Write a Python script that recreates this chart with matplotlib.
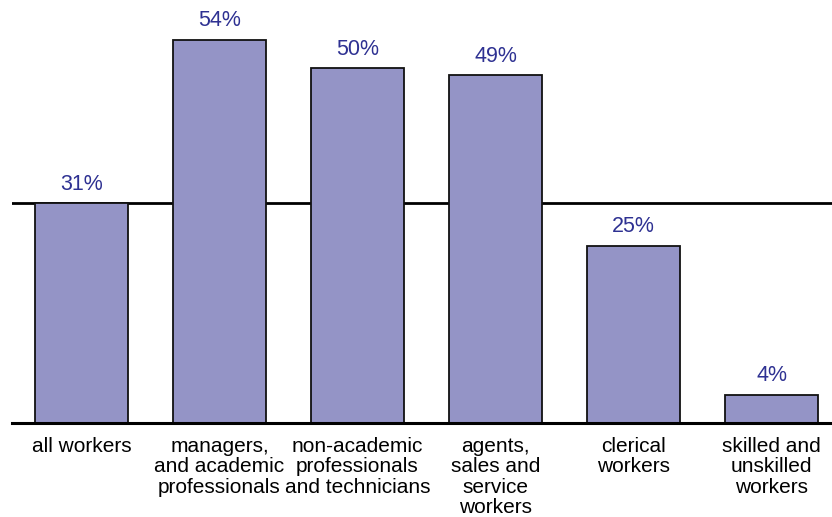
import matplotlib
matplotlib.use("Agg")
import matplotlib.pyplot as plt

categories = [
    "all workers",
    "managers,\nand academic\nprofessionals",
    "non-academic\nprofessionals\nand technicians",
    "agents,\nsales and\nservice\nworkers",
    "clerical\nworkers",
    "skilled and\nunskilled\nworkers",
]
values = [31, 54, 50, 49, 25, 4]
reference_value = 31

plt.rcParams["font.family"] = ["Liberation Sans", "DejaVu Sans"]

fig = plt.figure(figsize=(8.32, 5.17), dpi=100)
ax = fig.add_axes([12 / 832, 94 / 517, 820 / 832, 423 / 517])

x = list(range(len(values)))
bars = ax.bar(x, values, width=0.674, color="#9494c6", edgecolor="#111111",
              linewidth=1.3, zorder=3)

# reference level sits behind the bars
ax.axhline(reference_value, color="black", linewidth=2, zorder=2)
ax.axhline(0, color="black", linewidth=2.2, zorder=4, clip_on=False)

for xi, v in zip(x, values):
    ax.annotate(f"{v}%", (xi, v), xytext=(0, 6), textcoords="offset points",
                ha="center", va="bottom", fontsize=15.5, color="#2e3192")

for xi, c in zip(x, categories):
    ax.annotate(c, (xi, 0), xytext=(0, -10), textcoords="offset points",
                ha="center", va="top", fontsize=15, color="black",
                linespacing=1.1, annotation_clip=False)

ax.set_xlim(-0.504, 5.438)
ax.set_ylim(0, 423 / 7.1)
ax.axis("off")

fig.savefig("out.png", dpi=100)
